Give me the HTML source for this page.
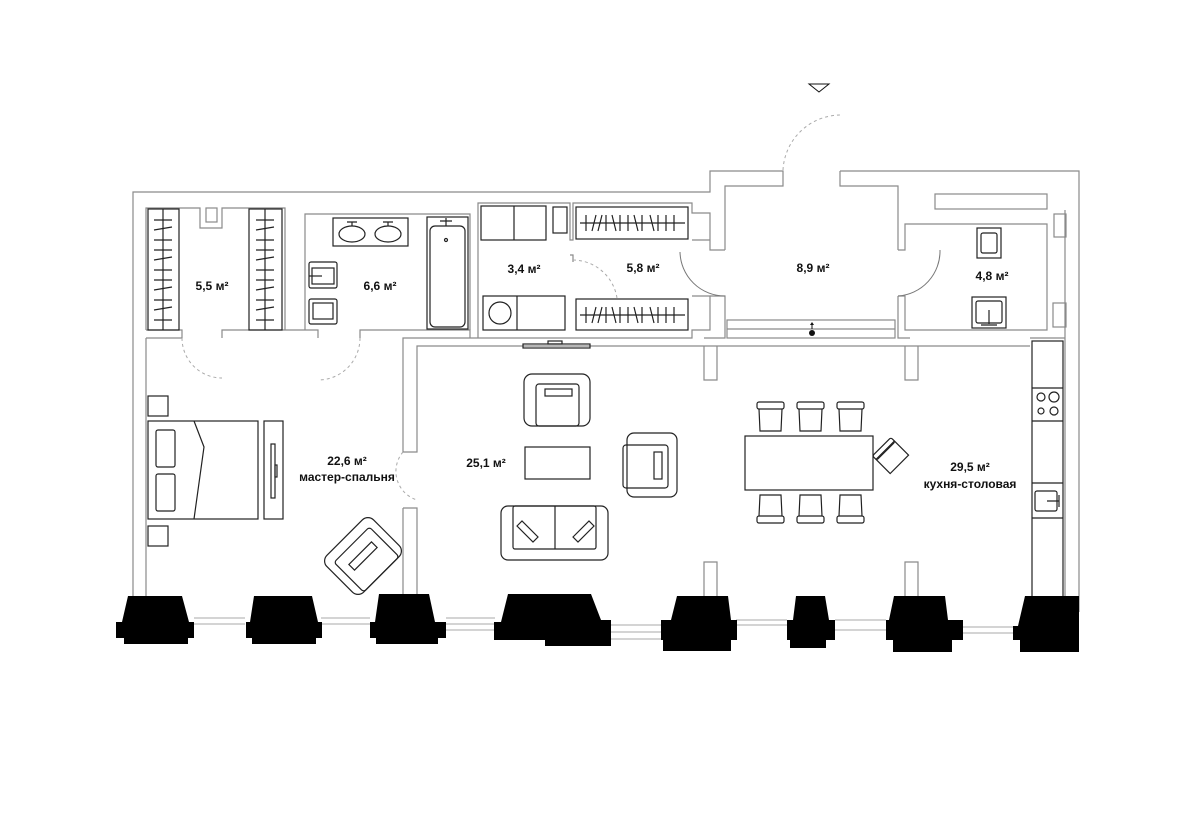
<!DOCTYPE html>
<html><head><meta charset="utf-8"><style>
html,body{margin:0;padding:0;background:#fff}
svg{display:block}
text{font-family:"Liberation Sans",sans-serif;font-size:12px;font-weight:bold;fill:#111;text-anchor:middle}
</style></head><body>
<svg width="1192" height="827" viewBox="0 0 1192 827" xmlns="http://www.w3.org/2000/svg">
<g fill="none" stroke="#8a8a8a" stroke-width="1.2">
<polyline points="133,612 133,192 710,192 710,171 783,171 783,186 725,186 725,250"/>
<polyline points="840,171 1079,171 1079,612"/>
<polyline points="840,171 840,186 898,186 898,250"/>
<line x1="1065" y1="210" x2="1065" y2="600"/>
<line x1="146" y1="338" x2="146" y2="600"/>
<polyline points="146,330 146,208 200,208 200,228 222,228 222,208 285,208 285,330"/>
<rect x="206" y="208" width="11" height="14"/>
<polyline points="146,330 182,330 182,338 146,338"/>
<polyline points="222,338 222,330 318,330 318,338"/>
<polyline points="360,338 360,330 470,330 470,338"/>
<polyline points="305,330 305,214 470,214 470,330"/>
<polyline points="478,338 478,203 570,203 570,240 573,240 573,203 692,203 692,213 710,213 710,250 725,250"/>
<polyline points="692,240 710,240"/>
<polyline points="570,255 573,255 573,262"/>
<polyline points="692,296 710,296 710,330 692,330 692,338 403,338 403,452 417,452 417,346 1030,346"/>
<polyline points="710,296 725,296 725,338 704,338"/>
<polyline points="403,508 417,508 417,600 403,600 403,508"/>
<rect x="727" y="320" width="168" height="18"/>
<line x1="727" y1="329" x2="895" y2="329"/>
<polyline points="704,346 704,380 717,380 717,346"/>
<polyline points="905,346 905,380 918,380 918,346"/>
<polyline points="704,600 704,562 717,562 717,600"/>
<polyline points="905,600 905,562 918,562 918,600"/>
<polyline points="898,296 905,296 905,330 1047,330 1047,224 905,224 905,250 898,250"/>
<polyline points="898,296 898,338 910,338"/>
<rect x="935" y="194" width="112" height="15"/>
<rect x="1054" y="214" width="12" height="23"/>
<rect x="1053" y="303" width="13" height="24"/>
<polyline points="1030,338 1065,338"/>
</g>
<g fill="none" stroke="#aaa" stroke-width="1" stroke-dasharray="3,3">
<path d="M182,338 A40,40 0 0 0 222,378"/>
<path d="M360,338 A42,42 0 0 1 318,380"/>
<path d="M403,452 A30,30 0 0 0 417,500"/>
<path d="M573,260 A45,45 0 0 1 617,298"/>
<path d="M783,170 A58,58 0 0 1 840,115"/>
</g>
<path d="M680,252 A45,45 0 0 0 725,296" fill="none" stroke="#777"/>
<path d="M940,250 A45,45 0 0 1 898,296" fill="none" stroke="#777"/>
<path d="M809,84 L829,84 L819,92 Z" fill="none" stroke="#111"/>
<g fill="none" stroke="#222" stroke-width="1.2">
<rect x="148" y="209" width="31" height="121"/>
<rect x="249" y="209" width="33" height="121"/>
<line x1="163" y1="209" x2="163" y2="330"/><line x1="265" y1="209" x2="265" y2="330"/>
<path d="M154,220h18M154,230l18,-3M154,240h18M154,250h18M154,260l18,-3M154,270h18M154,280h18M154,290l18,-3M154,300h18M154,310l18,-3M154,320h18"/>
<path d="M256,220h18M256,230l18,-3M256,240h18M256,250h18M256,260l18,-3M256,270h18M256,280h18M256,290l18,-3M256,300h18M256,310l18,-3M256,320h18"/>
<rect x="576" y="207" width="112" height="32"/>
<rect x="576" y="299" width="112" height="31"/>
<line x1="580" y1="223" x2="685" y2="223"/><line x1="580" y1="315" x2="685" y2="315"/>
<path d="M586,215v16M592,231l4,-16M598,231l4,-16M606,215v16M612,215l4,16M620,215v16M628,215v16M634,215l4,16M642,215v16M650,215l4,16M658,215v16M666,215v16M674,215v16"/>
<path d="M586,307v16M592,323l4,-16M598,323l4,-16M606,307v16M612,307l4,16M620,307v16M628,307v16M634,307l4,16M642,307v16M650,307l4,16M658,307v16M666,307v16M674,307v16"/>
<rect x="333" y="218" width="75" height="28"/>
<ellipse cx="352" cy="234" rx="13" ry="8"/><ellipse cx="388" cy="234" rx="13" ry="8"/>
<path d="M352,226v-4M347,222h10M388,226v-4M383,222h10"/>
<rect x="427" y="217" width="41" height="112"/>
<rect x="430" y="226" width="35" height="101" rx="5"/>
<path d="M446,218v8M440,221h12"/><circle cx="446" cy="240" r="1.5"/>
<rect x="309" y="262" width="28" height="26" rx="2"/><rect x="312" y="268" width="22" height="16"/><line x1="309" y1="276" x2="322" y2="276"/>
<rect x="309" y="299" width="28" height="25" rx="2"/><rect x="313" y="303" width="20" height="16"/>
<rect x="481" y="206" width="65" height="34"/><line x1="514" y1="206" x2="514" y2="240"/>
<rect x="483" y="296" width="82" height="34"/><line x1="517" y1="296" x2="517" y2="330"/>
<circle cx="500" cy="313" r="11"/>
<rect x="553" y="207" width="14" height="26"/>
<rect x="977" y="228" width="24" height="30"/><rect x="981" y="233" width="16" height="20" rx="2"/>
<rect x="972" y="297" width="34" height="31"/><rect x="976" y="301" width="26" height="22" rx="2"/>
<path d="M989,310v14M981,325h16"/>
<rect x="1032" y="341" width="31" height="258"/>
<line x1="1032" y1="388" x2="1063" y2="388"/><line x1="1032" y1="421" x2="1063" y2="421"/>
<circle cx="1041" cy="397" r="4"/><circle cx="1054" cy="397" r="5"/><circle cx="1041" cy="411" r="3"/><circle cx="1054" cy="411" r="4"/>
<line x1="1032" y1="483" x2="1063" y2="483"/><line x1="1032" y1="518" x2="1063" y2="518"/>
<rect x="1035" y="491" width="22" height="20" rx="2"/><path d="M1047,501h12M1059,495v12"/>
<rect x="523" y="344" width="67" height="4"/><rect x="548" y="341" width="14" height="3"/>
<rect x="524" y="374" width="66" height="52" rx="8"/>
<rect x="536" y="384" width="43" height="42" rx="3"/>
<rect x="545" y="389" width="27" height="7"/>
<rect x="525" y="447" width="65" height="32"/>
<rect x="501" y="506" width="107" height="54" rx="7"/>
<rect x="513" y="506" width="83" height="43" rx="2"/>
<line x1="555" y1="506" x2="555" y2="549"/>
<path d="M517,526l5,-5 16,16 -5,5z"/><path d="M573,537l16,-16 5,5 -16,16z"/>
<rect x="627" y="433" width="50" height="64" rx="7"/>
<rect x="623" y="445" width="45" height="43" rx="3"/>
<rect x="654" y="452" width="8" height="27"/>
<rect x="745" y="436" width="128" height="54"/>
<g id="ch"><rect x="757" y="402" width="27" height="7" rx="2"/><path d="M759,409 L760,431 H781 L782,409"/></g>
<use href="#ch" x="40"/><use href="#ch" x="80"/>
<g id="cb"><rect x="757" y="516" width="27" height="7" rx="2"/><path d="M759,516 L760,495 H781 L782,516"/></g>
<use href="#cb" x="40"/><use href="#cb" x="80"/>
<g transform="translate(893,458) rotate(-45)"><rect x="-13" y="-11" width="26" height="20"/><rect x="-13" y="-16" width="26" height="6" rx="2"/></g>
<rect x="148" y="396" width="20" height="20"/><rect x="148" y="526" width="20" height="20"/>
<rect x="148" y="421" width="110" height="98"/>
<rect x="156" y="430" width="19" height="37" rx="2"/><rect x="156" y="474" width="19" height="37" rx="2"/>
<path d="M194,421 L204,447 L194,519"/>
<rect x="264" y="421" width="19" height="98"/>
<rect x="271" y="444" width="4" height="54"/><rect x="275" y="465" width="2" height="12"/>
<g transform="translate(363,556) rotate(-45)">
<rect x="-33" y="-26" width="66" height="52" rx="8"/>
<rect x="-25" y="-16" width="50" height="42" rx="3"/>
<rect x="-16" y="-4" width="32" height="8"/>
</g>
</g>
<circle cx="812" cy="333" r="3" fill="#111"/><path d="M812,329v-5" stroke="#111"/><path d="M810,325l2,-3 2,3z" fill="#111"/>
<g stroke="#aaa" stroke-width="1" fill="none">
<path d="M194,618h51M194,624h51M321,618h49M321,624h49M446,618h49M446,624h49M446,630h49M610,625h51M610,632h51M610,639h51M736,620h51M736,625h51M835,620h51M835,630h51M963,627h50M963,633h50"/>
</g>
<g fill="#000">
<path d="M128,596H182L189,622H194V638H188V644H124V638H116V622H122Z"/>
<path d="M254,596H312L318,622H322V638H316V644H252V638H246V622H250Z"/>
<path d="M379,594H429L435,622H446V638H438V644H376V638H370V622H375Z"/>
<path d="M508,594H591L601,620H611V646H545V640H494V622H501Z"/>
<path d="M677,596H728L731,620H737V640H731V651H663V640H661V620H671Z"/>
<path d="M796,596H825L829,620H835V640H826V648H790V640H787V620H793Z"/>
<path d="M894,596H945L948,620H963V640H952V652H893V640H886V620H889Z"/>
<path d="M1025,596H1079V652H1020V640H1013V626H1018Z"/>
</g>
<text x="212" y="290">5,5 м²</text>
<text x="380" y="290">6,6 м²</text>
<text x="524" y="273">3,4 м²</text>
<text x="643" y="272">5,8 м²</text>
<text x="813" y="272">8,9 м²</text>
<text x="992" y="280">4,8 м²</text>
<text x="347" y="465">22,6 м²</text>
<text x="347" y="481">мастер-спальня</text>
<text x="486" y="467">25,1 м²</text>
<text x="970" y="471">29,5 м²</text>
<text x="970" y="488">кухня-столовая</text>
</svg>
</body></html>
